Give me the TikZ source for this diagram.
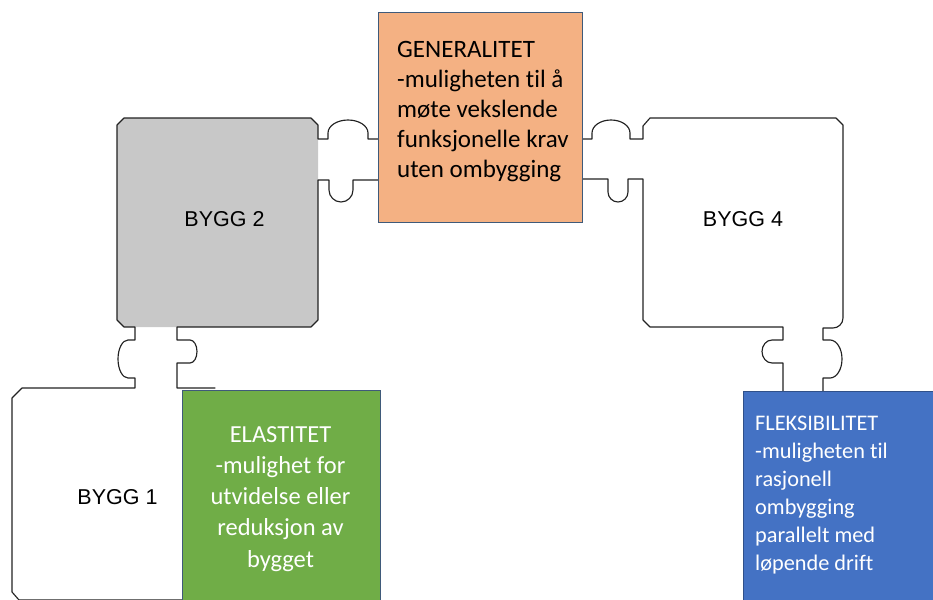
\documentclass[tikz,border=0pt]{standalone}
\usepackage{fontspec}
\newfontfamily\labelfont{Liberation Sans}
\newfontfamily\notefont[Ligatures={NoCommon}]{Carlito}
\definecolor{byggray}{HTML}{C8C8C8}
\definecolor{genorange}{HTML}{F4B183}
\definecolor{elgreen}{HTML}{70AD47}
\definecolor{flexblue}{HTML}{4472C4}
\definecolor{boxedge}{HTML}{3F5A7A}
\definecolor{wallcol}{HTML}{222222}
\begin{document}
\begin{tikzpicture}[x=1pt,y=-1pt,
  wall/.style={draw=wallcol, line width=1.15pt, line join=round, line cap=round},
  notebox/.style={rectangle, inner sep=0pt, anchor=north west, line width=0.9pt, draw=boxedge},
  bygglabel/.style={inner sep=0pt, font=\labelfont\fontsize{21.5}{24}\selectfont, text=black},
  notetext/.style={inner sep=0pt}]
\useasboundingbox (0,0) rectangle (933,599);
\clip (0,0) rectangle (933,599);

% building 2 fill
\fill[byggray] (124,118) -- (311,118) -- (318,125) -- (318,320) -- (311,327)
  -- (124,327) -- (117,320) -- (117,125) -- cycle;

% outer outline: upper joint, building 2, left side of lower joint, building 1
\draw[wall] (378,139) -- (368,139) -- (368,133)
  .. controls (368,125.8) and (359,120) .. (348,120)
  .. controls (337,120) and (328,125.8) .. (328,133)
  -- (328,139) -- (318,139) -- (318,125) -- (311,118) -- (124,118) -- (117,125)
  -- (117,320) -- (124,327) -- (135,327) -- (135,340) -- (128,340)
  .. controls (122.5,340) and (118,348.5) .. (118,359)
  .. controls (118,369.5) and (122.5,378) .. (128,378)
  -- (135,378) -- (135,388) -- (22,388) -- (12,398) -- (12,592) -- (19,600) -- (200,600);

% inner outline: lower joint, building 2 right/bottom, right side of joint
\draw[wall] (378,180) -- (353,180) -- (353,190)
  .. controls (353,196.6) and (347.6,202) .. (341,202)
  .. controls (334.4,202) and (329,196.6) .. (329,190)
  -- (329,180) -- (318,180) -- (318,320) -- (311,327) -- (177,327) -- (177,340) -- (190,340)
  .. controls (193.9,340) and (197,345.1) .. (197,351.5)
  .. controls (197,357.9) and (193.9,363) .. (190,363)
  -- (177,363) -- (177,388) -- (215,388);

% building 4 outer outline
\draw[wall] (582,139) -- (592,139) -- (592,133)
  .. controls (592,125.8) and (600.5,120) .. (611,120)
  .. controls (621.5,120) and (630,125.8) .. (630,133)
  -- (630,139) -- (643,139) -- (643,126) -- (650,118) -- (836,118) -- (843,125)
  -- (843,318) .. controls (843,324) and (838,328) .. (833,328)
  -- (823,328) -- (823,340) -- (830,340)
  .. controls (836.6,340) and (842,348.5) .. (842,359)
  .. controls (842,369.5) and (836.6,378) .. (830,378)
  -- (823,378) -- (823,395);

% building 4 inner outline
\draw[wall] (582,179) -- (608,179) -- (608,192)
  .. controls (608,197.5) and (612.5,202) .. (618,202)
  .. controls (623.5,202) and (628,197.5) .. (628,192)
  -- (628,179) -- (643,179) -- (643,320) -- (650,327) -- (783,327) -- (783,340) -- (772,340)
  .. controls (766.5,340) and (762,345.1) .. (762,351.5)
  .. controls (762,357.9) and (766.5,363) .. (772,363)
  -- (783,363) -- (783,395);

% building labels
\node[bygglabel] (bygg2) at (224.5,219) {BYGG 2};
\node[bygglabel] (bygg4) at (743,219) {BYGG 4};
\node[bygglabel] (bygg1) at (117.5,497) {BYGG 1};

% property boxes
\node[notebox, fill=genorange, minimum width=204, minimum height=210] (genbox) at (378,12) {};
\node[notebox, fill=elgreen, minimum width=198, minimum height=225] (elbox) at (182,389.5) {};
\node[notebox, fill=flexblue, draw=flexblue!70!black, minimum width=210, minimum height=225] (flexbox) at (743,391) {};

\node[notetext, anchor=west, align=left, text=black,
  font=\notefont\fontsize{25}{30}\selectfont] (gentext) at (397,111.5)
  {GENERALITET\\-muligheten til å\\møte vekslende\\funksjonelle krav\\uten ombygging};
\node[notetext, anchor=center, align=center, text=white,
  font=\notefont\fontsize{24.5}{31.25}\selectfont] (eltext) at (280.5,498.8)
  {ELASTITET\\-mulighet for\\utvidelse eller\\reduksjon av\\bygget};
\node[notetext, anchor=west, align=left, text=white,
  font=\notefont\fontsize{22.3}{28}\selectfont] (flextext) at (755,495)
  {FLEKSIBILITET\\-muligheten til\\rasjonell\\ombygging\\parallelt med\\løpende drift};
\end{tikzpicture}
\end{document}
